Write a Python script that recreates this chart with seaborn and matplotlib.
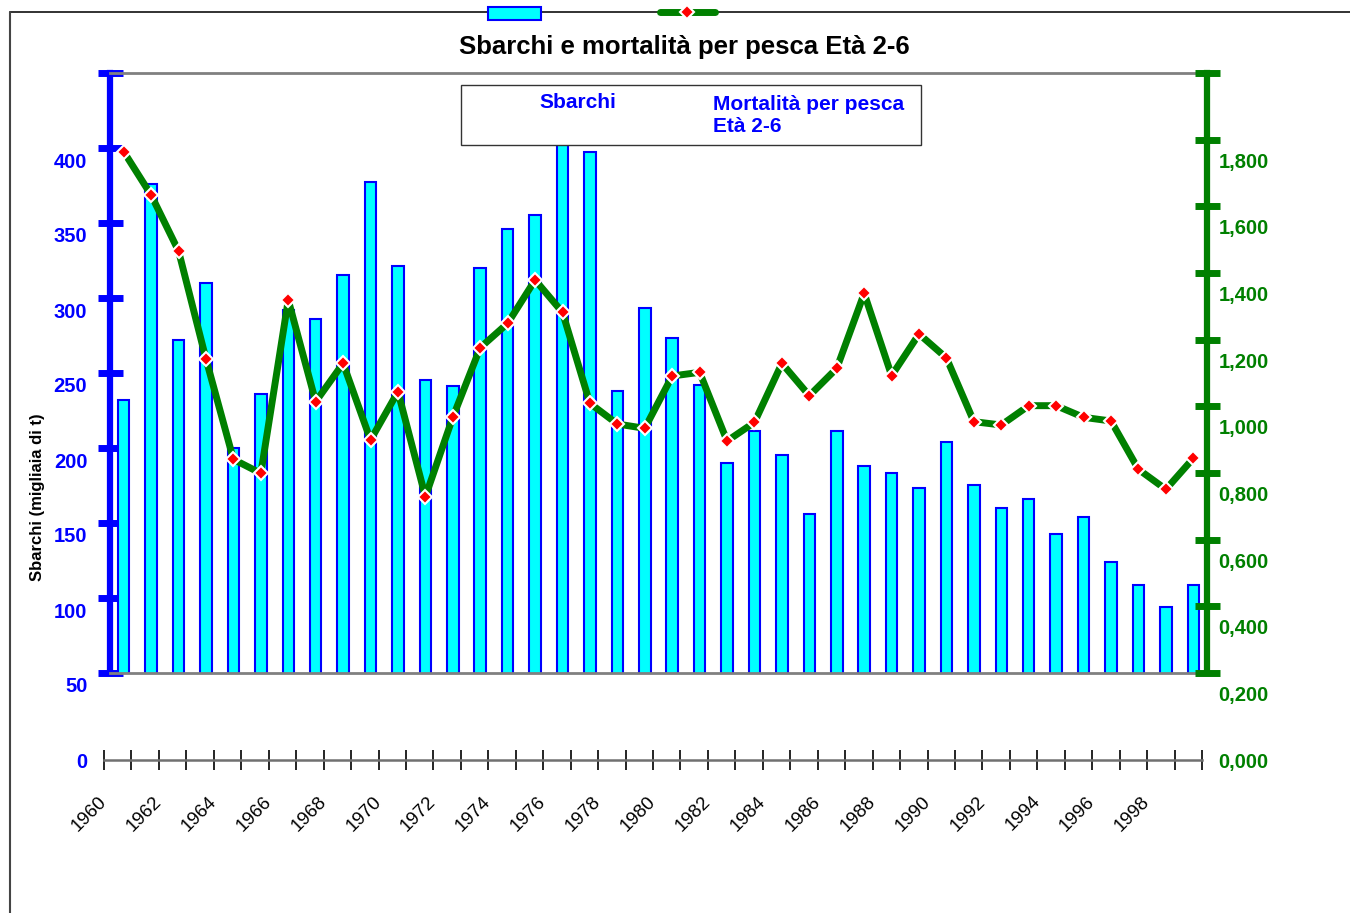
import numpy as np
import pandas as pd
import seaborn as sns
import matplotlib.pyplot as plt
from matplotlib.patches import Rectangle
from matplotlib.lines import Line2D

years = list(range(1960, 2000))
sbarchi = [240, 384, 280, 318, 208, 244, 300, 294, 323, 385,
           329, 253, 249, 328, 354, 363, 430, 405, 246, 301,
           281, 250, 198, 219, 203, 164, 219, 196, 191, 181,
           212, 183, 168, 174, 151, 162, 132, 117, 102, 117]
mortalita = [1.825, 1.695, 1.527, 1.203, 0.902, 0.860, 1.380, 1.075, 1.190, 0.960,
             1.105, 0.790, 1.028, 1.237, 1.310, 1.440, 1.343, 1.070, 1.008, 0.995,
             1.152, 1.163, 0.957, 1.013, 1.190, 1.093, 1.175, 1.400, 1.153, 1.278,
             1.206, 1.015, 1.005, 1.063, 1.063, 1.028, 1.017, 0.872, 0.812, 0.905]
left_labels = [0, 50, 100, 150, 200, 250, 300, 350, 400]
right_labels = [0.0, 0.2, 0.4, 0.6, 0.8, 1.0, 1.2, 1.4, 1.6, 1.8]
title = "Sbarchi e mortalità per pesca Età 2-6"
ylabel = "Sbarchi (migliaia di t)"
name_bars = "Sbarchi"
name_line = "Mortalità per pesca\nEtà 2-6"

df = pd.DataFrame({"anno": years, "sbarchi": sbarchi, "mortalita": mortalita,
                   "pos": np.arange(len(years))})

sns.set_style("white")
plt.rcParams['font.family'] = ['Liberation Sans', 'DejaVu Sans']

W, H = 1350, 913
fig = plt.figure(figsize=(W / 100, H / 100), dpi=100)

def fy(py):
    return 1 - py / H

# axis carrying the printed labels (offset from the plot area, as in the original)
ax_lab = fig.add_axes([104 / W, (H - 760) / H, 1098 / W, 687 / H])
ax_lab.patch.set_alpha(0)
ax_lab.set_xlim(0, 40)
ax_lab.set_ylim(0, 458)
for s in ['top', 'left', 'right']:
    ax_lab.spines[s].set_visible(False)
ax_lab.spines['bottom'].set_color('#707070')
ax_lab.spines['bottom'].set_linewidth(1.8)
ax_lab.set_xticks(range(41))
ax_lab.set_xticklabels([str(1960 + i) if (i % 2 == 0 and i < 40) else '' for i in range(41)],
                       fontsize=13.5, color='black')
for lab in ax_lab.get_xticklabels():
    lab.set_rotation(45)
    lab.set_ha('right')
    lab.set_va('center')
    lab.set_rotation_mode('anchor')
ax_lab.tick_params(axis='x', bottom=True, direction='inout', length=14, width=1.2,
                   color='black', pad=21)
ax_lab.set_yticks(left_labels)
ax_lab.set_yticklabels([str(v) for v in left_labels], color='blue', fontsize=14.5, weight='bold')
ax_lab.tick_params(axis='y', left=False, length=0, pad=12)

ax_lab2 = ax_lab.twinx()
ax_lab2.set_ylim(0, 2.061)
for s in ax_lab2.spines.values():
    s.set_visible(False)
ax_lab2.set_yticks(right_labels)
ax_lab2.set_yticklabels([f"{v:.3f}".replace('.', ',') for v in right_labels],
                        color='green', fontsize=14.5, weight='bold')
ax_lab2.tick_params(axis='y', right=False, length=0, pad=12)

# plot area
ax = fig.add_axes([110 / W, (H - 673) / H, 1097 / W, 600 / H])
ax.patch.set_alpha(0)
sns.barplot(data=df, x="anno", y="sbarchi", ax=ax, color='cyan', edgecolor='blue',
            linewidth=1.5, width=0.42, saturation=1)
ax.set_xlim(-0.5, 39.5)
ax.set_ylim(58, 458)
ax.set_xticks([])
ax.set_yticks(np.arange(58, 459, 50))
ax.set_yticklabels([])
ax.set_xlabel('')
ax.set_ylabel('')
ax.tick_params(axis='y', left=True, direction='inout', length=18, width=5, color='blue')
ax.spines['left'].set_color('blue')
ax.spines['left'].set_linewidth(4.5)
ax.spines['right'].set_visible(False)
for s in ['top', 'bottom']:
    ax.spines[s].set_color('#808080')
    ax.spines[s].set_linewidth(2)

ax2 = ax.twinx()
sns.lineplot(data=df, x="pos", y="mortalita", ax=ax2, color='green', linewidth=5,
             marker='D', markersize=7, markerfacecolor='red', markeredgecolor='white',
             markeredgewidth=1.5)
ax2.set_ylim(0.261, 2.061)
ax2.set_xlim(-0.5, 39.5)
ax2.set_yticks(0.261 + 0.2 * np.arange(10))
ax2.set_yticklabels([])
ax2.set_xlabel('')
ax2.set_ylabel('')
ax2.tick_params(axis='y', right=True, direction='inout', length=18, width=5, color='green')
for s in ['left', 'top', 'bottom']:
    ax2.spines[s].set_visible(False)
ax2.spines['right'].set_color('green')
ax2.spines['right'].set_linewidth(4.5)

# titles
fig.text(684 / W, fy(47), title, ha='center', va='center', fontsize=18.5, weight='bold',
         color='black')
fig.text(38 / W, fy(497), ylabel, ha='center', va='center', rotation=90,
         fontsize=12, weight='bold', color='black')

# outer frame
fig.add_artist(Line2D([10 / W, 1], [fy(12), fy(12)], color='#222222', lw=1.3))
fig.add_artist(Line2D([10 / W, 10 / W], [fy(12), 0], color='#444444', lw=1.5))

# legend swatches sitting on the frame
fig.add_artist(Rectangle((488 / W, fy(20)), 53 / W, 13 / H, facecolor='cyan',
                         edgecolor='blue', lw=1.5, transform=fig.transFigure, zorder=10))
fig.add_artist(Line2D([660 / W, 715 / W], [fy(12), fy(12)], color='green', lw=5,
                      solid_capstyle='round', zorder=10))
fig.add_artist(Line2D([687 / W], [fy(12)], marker='D', markersize=7, markerfacecolor='red',
                      markeredgecolor='white', markeredgewidth=1.5, zorder=11))

# legend box
fig.add_artist(Rectangle((461 / W, fy(145)), 460 / W, 60 / H, facecolor='white',
                         edgecolor='#333333', lw=1, transform=fig.transFigure, zorder=10))
fig.text(578 / W, fy(103), name_bars, ha='center', va='center', color='blue',
         fontsize=15, weight='bold', zorder=11)
fig.text(713 / W, fy(115.5), name_line, ha='left', va='center', color='blue',
         fontsize=15, weight='bold', zorder=11, linespacing=1.2)

fig.savefig('out.png', dpi=100)
